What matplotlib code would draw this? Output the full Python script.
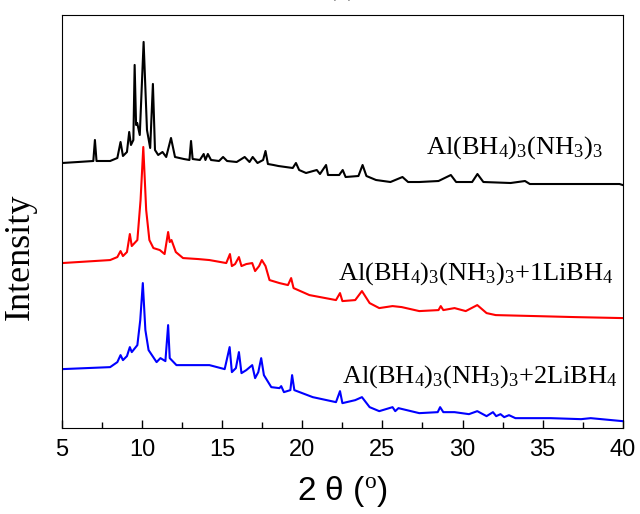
import matplotlib
matplotlib.use("Agg")
import matplotlib.pyplot as plt
from matplotlib.ticker import MultipleLocator

plt.rcParams["mathtext.fontset"] = "custom"
plt.rcParams["mathtext.rm"] = "Liberation Serif"
plt.rcParams["mathtext.it"] = "Liberation Serif:italic"

# XRD patterns (2 theta in degrees, offset intensity in a.u.)
black_2theta = [5.0, 6.0, 6.95, 7.05, 7.15, 8.0, 8.45, 8.65, 8.8, 9.05, 9.19, 9.3, 9.45, 9.53,
                9.62, 9.69, 9.85, 10.09, 10.3, 10.5, 10.67, 10.8, 11.0, 11.27, 11.5, 11.8, 12.05,
                12.6, 12.95, 13.05, 13.15, 13.6, 13.84, 13.95, 14.1, 14.3, 14.8, 15.05, 15.3, 15.9,
                16.4, 16.7, 16.9, 17.2, 17.55, 17.7, 17.85, 18.2, 18.5, 19.4, 19.6, 19.8, 20.23,
                20.9, 21.1, 21.48, 21.6, 22.3, 22.52, 22.7, 23.5, 23.76, 24.0, 24.6, 25.5, 26.25,
                26.6, 27.3, 28.5, 29.27, 29.6, 30.6, 30.93, 31.3, 33.0, 33.9, 34.2, 36.0, 39.8, 40.0]
black_int = [265, 266, 267, 288, 267, 267, 270, 286, 272, 276, 296, 283, 288, 363,
             303, 305, 293, 386, 298, 280, 344, 278, 273, 276, 271, 290, 271,
             269, 268, 287, 269, 268, 274, 268, 274, 268, 267, 271, 267, 266,
             271, 266, 271, 265, 268, 277, 264, 263, 262, 260, 265, 258, 255,
             258, 254, 263, 253, 253, 258, 251, 252, 263, 252, 248, 246, 251,
             246, 246, 247, 253, 246, 246, 254, 246, 245, 247, 244, 244, 244, 243]

red_2theta = [5.0, 6.0, 7.0, 8.0, 8.45, 8.65, 8.8, 9.05, 9.23, 9.35, 9.7, 9.9, 10.07, 10.25,
              10.45, 10.7, 11.1, 11.4, 11.62, 11.72, 11.83, 12.1, 12.55, 13.5, 14.2, 15.25,
              15.48, 15.6, 15.8, 16.04, 16.2, 16.5, 16.87, 17.05, 17.3, 17.47, 17.7, 17.95,
              18.57, 19.1, 19.3, 19.45, 20.44, 22.1, 22.35, 22.5, 23.3, 23.72, 24.2, 24.8,
              25.63, 26.2, 27.3, 28.5, 28.64, 28.8, 29.5, 30.2, 30.92, 31.5, 32.07, 34.56,
              37.0, 40.0]
red_int = [165, 166, 167, 168, 171, 177, 172, 176, 194, 182, 188, 228, 281, 218,
           188, 180, 178, 174, 196, 186, 188, 176, 170, 169, 168, 165,
           174, 162, 164, 171, 162, 164, 165, 157, 162, 168, 162, 148,
           145, 143, 150, 140, 133, 128, 135, 127, 128, 137, 125, 120,
           122, 121, 117, 118, 122, 118, 120, 117, 123, 115, 113, 112,
           111, 110]

blue_2theta = [5.0, 6.5, 8.0, 8.45, 8.65, 8.8, 9.05, 9.23, 9.35, 9.7, 9.88, 10.04, 10.2, 10.4,
               10.9, 11.14, 11.45, 11.62, 11.72, 12.14, 14.2, 15.15, 15.46, 15.6, 15.85, 16.04,
               16.2, 16.5, 16.87, 17.05, 17.25, 17.43, 17.6, 18.06, 18.57, 18.68, 18.85, 19.25,
               19.36, 19.5, 20.65, 22.1, 22.35, 22.5, 23.3, 23.72, 24.2, 24.8, 25.63, 25.8,
               26.0, 27.3, 28.45, 28.6, 28.8, 29.5, 30.4, 30.92, 31.5, 31.9, 32.1, 32.37, 32.6,
               32.9, 33.3, 34.56, 35.5, 37.4, 38.0, 40.0]
blue_int = [59, 60, 61, 66, 73, 68, 72, 81, 76, 83, 108, 145, 98, 78,
            66, 70, 67, 103, 70, 63, 63, 59, 81, 56, 60, 76,
            55, 58, 63, 50, 56, 70, 53, 41, 40, 42, 36, 38,
            53, 38, 31, 26, 37, 25, 28, 31, 21, 17, 21, 17,
            20, 15, 16, 21, 16, 16, 14, 17, 12, 16, 12, 14, 11,
            13, 10, 10, 10, 9, 10, 7]

labels = [r"Al(BH$_4$)$_3$(NH$_3$)$_3$",
          r"Al(BH$_4$)$_3$(NH$_3$)$_3$+1LiBH$_4$",
          r"Al(BH$_4$)$_3$(NH$_3$)$_3$+2LiBH$_4$"]
label_x = [27.75, 22.2, 22.45]
label_y = [274, 148, 46]
colors = ["black", "red", "blue"]

fig = plt.figure(figsize=(6.4, 5.14), dpi=100)
ax = fig.add_axes([0.097, 0.167, 0.876, 0.804])

series = [(black_2theta, black_int), (red_2theta, red_int), (blue_2theta, blue_int)]
for (x, y), c in zip(series, colors):
    ax.plot(x, y, color=c, linewidth=1.5)

for txt, tx, ty, c in zip(labels, label_x, label_y, colors):
    ax.text(tx, ty, txt, fontsize=19, family="Liberation Serif", va="baseline", ha="left")

ax.set_xlim(5, 40)
ax.set_ylim(0, 413)
ax.xaxis.set_major_locator(MultipleLocator(5))
ax.xaxis.set_minor_locator(MultipleLocator(2.5))
ax.tick_params(axis="x", which="major", direction="in", length=6, width=1,
               labelsize=17, pad=8)
ax.tick_params(axis="x", which="minor", direction="in", length=4, width=1)
ax.set_yticks([])
for lbl in ax.get_xticklabels():
    lbl.set_family("Liberation Sans")

ax.set_xlabel(r"2 θ ($^{\rm o}$)", fontsize=24, family="Liberation Sans", labelpad=9)
ax.set_ylabel("Intensity", fontsize=26, family="Liberation Serif")
ax.yaxis.set_label_coords(-0.046, 0.414)

fig.text(0.535, 1.009, "(a)", fontsize=20, family="Liberation Serif",
         ha="center", va="baseline")

fig.savefig("out.png", dpi=100)
